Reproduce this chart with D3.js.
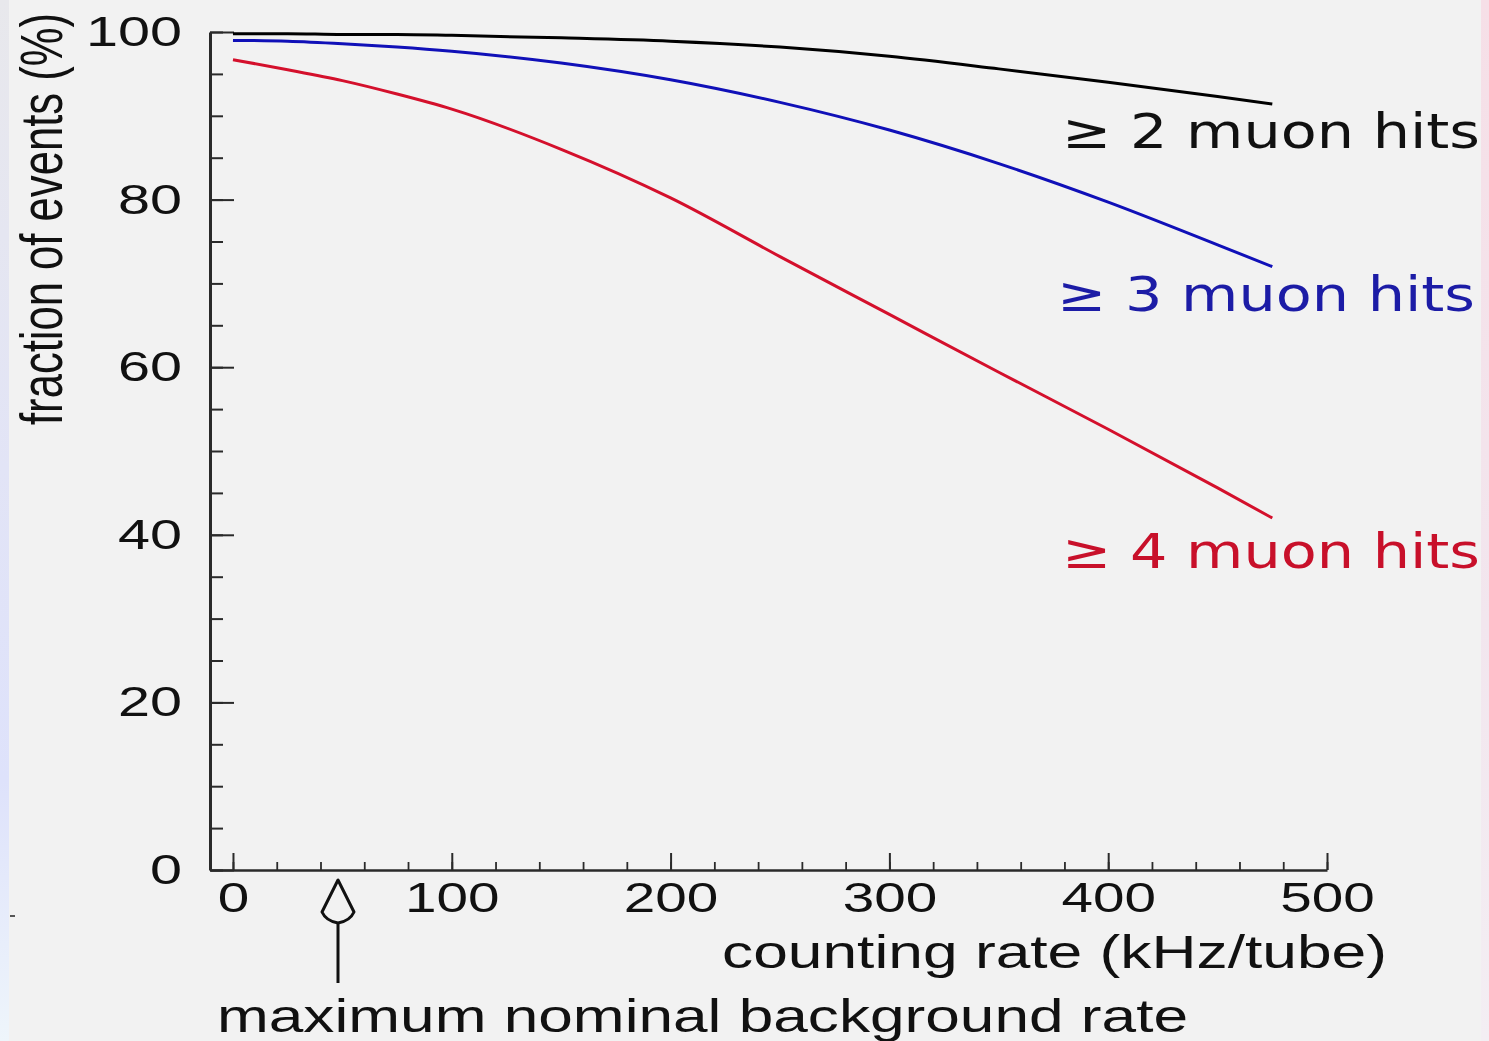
<!DOCTYPE html>
<html lang="en">
<head>
<meta charset="utf-8">
<title>muon hits vs counting rate</title>
<script src="https://cdn.jsdelivr.net/npm/d3@7"></script>
<style>
  body { margin: 0; background: #f2f2f2; }
  .tick text { font-family: "Liberation Sans", Arial, sans-serif; font-size: 42px; fill: #111; }
  .axis path, .axis line { stroke: #2a2a2a; }
  .title { font-family: "Liberation Sans", Arial, sans-serif; font-size: 46px; fill: #111; }
  .hits { font-family: "DejaVu Sans", sans-serif; font-size: 48px; }
</style>
</head>
<body>
<script>
// counting rate (kHz/tube)
var rates = [0, 25, 50, 75, 100, 150, 200, 250, 300, 350, 400, 450, 475];
// fraction of events (%)
var hits2 = [99.8, 99.8, 99.7, 99.7, 99.6, 99.3, 98.9, 98.2, 97.1, 95.6, 94.0, 92.3, 91.4];
var hits3 = [99.0, 98.9, 98.6, 98.2, 97.7, 96.3, 94.3, 91.6, 88.3, 84.3, 79.7, 74.6, 72.0];
var hits4 = [96.7, 95.5, 94.2, 92.6, 90.8, 86.0, 80.2, 73.2, 66.3, 59.4, 52.6, 45.6, 42.0];
var seriesNames = ["\u2265 2 muon hits", "\u2265 3 muon hits", "\u2265 4 muon hits"];
var xTicks = [0, 100, 200, 300, 400, 500];
var yTicks = [0, 20, 40, 60, 80, 100];
var nominalRate = 48;

var width = 1489, height = 1041;
var colors = ["#000000", "#1010b8", "#d4102c"];
var textColors = ["#111111", "#1c1ca6", "#c8102a"];
// label placement: [x start, baseline, length]
var labelPos = [[1062, 148, 418], [1057, 311, 418], [1062, 568, 418]];

var svg = d3.select("body").append("svg")
  .attr("width", width)
  .attr("height", height);

// slide background edges
var defs = svg.append("defs");
var lg = defs.append("linearGradient").attr("id", "leftEdge").attr("x1", 0).attr("y1", 0).attr("x2", 0).attr("y2", 1);
lg.append("stop").attr("offset", "0%").attr("stop-color", "#e8e8ec");
lg.append("stop").attr("offset", "45%").attr("stop-color", "#e2e4f6");
lg.append("stop").attr("offset", "75%").attr("stop-color", "#dee2fb");
lg.append("stop").attr("offset", "100%").attr("stop-color", "#eef5fb");
var rg = defs.append("linearGradient").attr("id", "rightEdge").attr("x1", 0).attr("y1", 0).attr("x2", 0).attr("y2", 1);
rg.append("stop").attr("offset", "0%").attr("stop-color", "#f6dfe7");
rg.append("stop").attr("offset", "60%").attr("stop-color", "#f2e6ee");
rg.append("stop").attr("offset", "100%").attr("stop-color", "#f3eef3");

svg.append("rect").attr("width", width).attr("height", height).attr("fill", "#f2f2f2");
svg.append("rect").attr("x", 0).attr("y", 0).attr("width", 9).attr("height", height).attr("fill", "url(#leftEdge)");
svg.append("rect").attr("x", 1481).attr("y", 0).attr("width", 8).attr("height", height).attr("fill", "url(#rightEdge)");
svg.append("line").attr("x1", 10).attr("x2", 15).attr("y1", 916).attr("y2", 916).attr("stroke", "#222").attr("stroke-width", 1.5);

var x = d3.scaleLinear().domain([-10.5, 500]).range([210, 1327]);
var y = d3.scaleLinear().domain([0, 100]).range([870, 32]);

// x axis, ticks pointing up
svg.append("g")
  .attr("class", "axis")
  .attr("transform", "translate(0," + y(0) + ")")
  .call(d3.axisBottom(x).tickValues(d3.range(0, 501, 20)).tickSize(-8).tickSizeOuter(0).tickFormat(""))
  .call(function(g) { g.select(".domain").attr("stroke-width", 2.5); g.selectAll("line").attr("stroke-width", 1.8); });

svg.append("g")
  .attr("class", "axis")
  .attr("transform", "translate(0," + y(0) + ")")
  .call(d3.axisBottom(x).tickValues(xTicks).tickSize(-17).tickSizeOuter(0).tickPadding(12))
  .call(function(g) {
    g.select(".domain").remove();
    g.selectAll("line").attr("stroke-width", 2);
    g.selectAll("text")
      .attr("textLength", function(d) { return String(d).length * 31.5; })
      .attr("lengthAdjust", "spacingAndGlyphs");
  });

// y axis, ticks pointing right
svg.append("g")
  .attr("class", "axis")
  .attr("transform", "translate(" + x(-10.5) + ",0)")
  .call(d3.axisLeft(y).tickValues(d3.range(0, 101, 5)).tickSize(-13).tickSizeOuter(0).tickFormat(""))
  .call(function(g) { g.select(".domain").attr("stroke-width", 3); g.selectAll("line").attr("stroke-width", 2); });

svg.append("g")
  .attr("class", "axis")
  .attr("transform", "translate(" + x(-10.5) + ",0)")
  .call(d3.axisLeft(y).tickValues(yTicks).tickSize(-24).tickSizeOuter(0).tickPadding(28))
  .call(function(g) {
    g.select(".domain").remove();
    g.selectAll("line").attr("stroke-width", 2);
    g.selectAll("text")
      .attr("textLength", function(d) { return String(d).length * 32; })
      .attr("lengthAdjust", "spacingAndGlyphs");
  });

// curves
var line = d3.line()
  .x(function(d) { return x(d[0]); })
  .y(function(d) { return y(d[1]); })
  .curve(d3.curveMonotoneX);

[hits2, hits3, hits4].forEach(function(vals, i) {
  svg.append("path")
    .datum(rates.map(function(r, j) { return [r, vals[j]]; }))
    .attr("d", line)
    .attr("fill", "none")
    .attr("stroke", colors[i])
    .attr("stroke-width", 3);

  svg.append("text")
    .attr("class", "hits")
    .attr("x", labelPos[i][0])
    .attr("y", labelPos[i][1])
    .attr("textLength", labelPos[i][2])
    .attr("lengthAdjust", "spacingAndGlyphs")
    .attr("fill", textColors[i])
    .text(seriesNames[i]);
});

// axis titles
svg.append("text")
  .attr("class", "title")
  .attr("x", 722).attr("y", 968)
  .attr("textLength", 665).attr("lengthAdjust", "spacingAndGlyphs")
  .text("counting rate (kHz/tube)");

// rotated title, glyphs stretched across x like the reference
svg.append("text")
  .attr("class", "title")
  .attr("transform", "translate(62,219) scale(1.36,1) rotate(-90)")
  .attr("text-anchor", "middle")
  .attr("textLength", 412).attr("lengthAdjust", "spacingAndGlyphs")
  .style("font-size", "44px")
  .text("fraction of events (%)");

svg.append("text")
  .attr("class", "title")
  .attr("x", 217).attr("y", 1032)
  .attr("textLength", 971).attr("lengthAdjust", "spacingAndGlyphs")
  .text("maximum nominal background rate");

// arrow marking the nominal background rate
var ax = x(nominalRate);
svg.append("path")
  .attr("d", "M" + ax + ",880 L" + (ax - 16) + ",912 Q" + (ax - 12) + ",921 " + ax + ",923 Q" + (ax + 12) + ",921 " + (ax + 16) + ",912 Z")
  .attr("fill", "none")
  .attr("stroke", "#111")
  .attr("stroke-width", 3)
  .attr("stroke-linejoin", "round");
svg.append("line")
  .attr("x1", ax).attr("x2", ax)
  .attr("y1", 923).attr("y2", 983)
  .attr("stroke", "#111")
  .attr("stroke-width", 3);
</script>
</body>
</html>
